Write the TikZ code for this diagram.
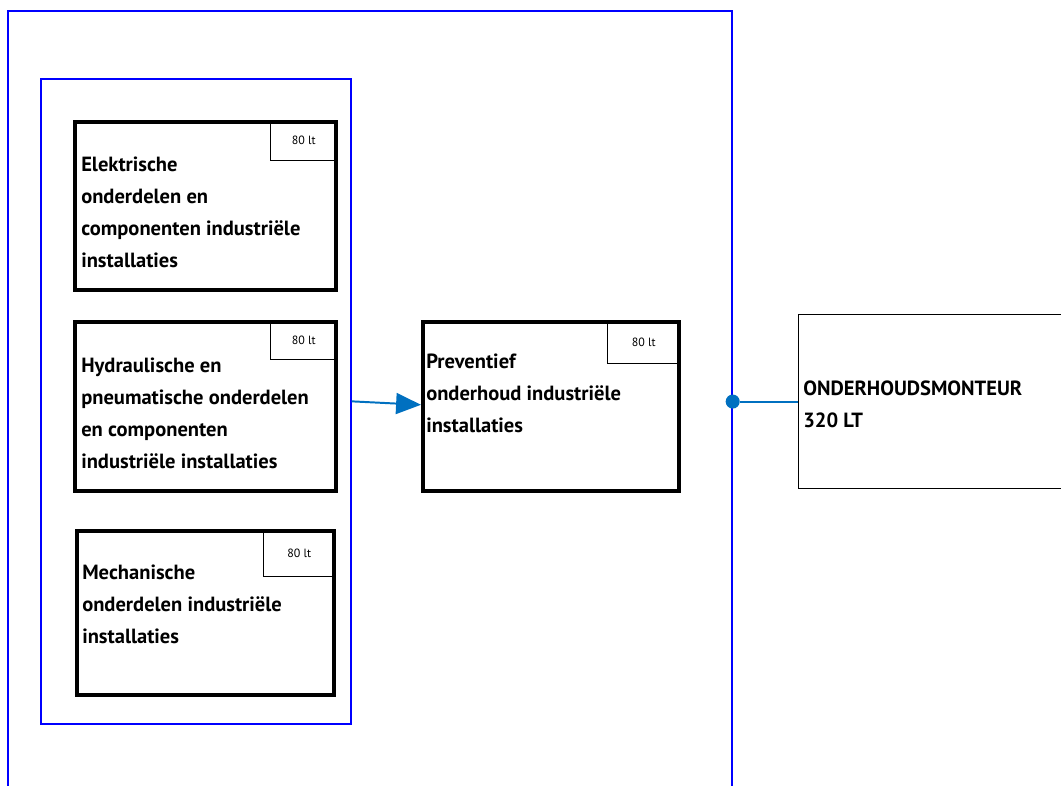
\documentclass[tikz,border=0pt]{standalone}
\usepackage{fontspec}
\setmainfont{PT Sans}
\usetikzlibrary{arrows.meta}
\definecolor{linkblue}{RGB}{0,112,192}

\begin{document}
\begin{tikzpicture}[x=0.025cm, y=-0.025cm,
    frame/.style = {draw=blue, line width=1.2pt, inner sep=0pt, anchor=north west},
    unit/.style = {draw=black, line width=2.8pt, inner sep=0pt, anchor=north west},
    tag/.style = {draw=black, line width=0.9pt, inner sep=0pt, anchor=north east, font=\fontsize{8.5}{10}\selectfont},
    txt/.style = {anchor=base west, inner sep=0pt, align=left, font=\bfseries\fontsize{14.6}{22.7}\selectfont},
    job/.style = {draw=black, line width=0.8pt, inner sep=0pt, anchor=north west},
    link/.style = {draw=linkblue, line width=1.4pt}]
                \useasboundingbox (0,0) rectangle (1061,785);
                % frames
                \node[frame, minimum width=724*0.025cm, minimum height=810*0.025cm] (outer) at (7,10) {};
                \node[frame, minimum width=310*0.025cm, minimum height=645*0.025cm] (inner) at (40,78) {};

                % units inside the inner frame (text placed by the baseline of its last line)
                \node[unit, minimum width=261*0.025cm, minimum height=168*0.025cm] (elek) at (73,120) {};
                \node[tag, minimum width=67*0.025cm, minimum height=40*0.025cm] (elek tag) at (elek.north east) {80 lt};
                \node[txt] (elek txt) at (81,267) {Elektrische\\onderdelen en\\componenten industriële\\installaties};

                \node[unit, minimum width=261*0.025cm, minimum height=169*0.025cm] (hydr) at (73,320) {};
                \node[tag, minimum width=67*0.025cm, minimum height=39*0.025cm] (hydr tag) at (hydr.north east) {80 lt};
                \node[txt] (hydr txt) at (81,468) {Hydraulische en\\pneumatische onderdelen\\en componenten\\industriële installaties};

                \node[unit, minimum width=257*0.025cm, minimum height=164*0.025cm] (mech) at (75,529) {};
                \node[tag, minimum width=72*0.025cm, minimum height=47*0.025cm] (mech tag) at (mech.north east) {80 lt};
                \node[txt] (mech txt) at (82,643) {Mechanische\\onderdelen industriële\\installaties};

                % preventief onderhoud
                \node[unit, minimum width=256*0.025cm, minimum height=169*0.025cm] (prev) at (421,320) {};
                \node[tag, minimum width=73*0.025cm, minimum height=43*0.025cm] (prev tag) at (prev.north east) {80 lt};
                \node[txt] (prev txt) at (426,432) {Preventief\\onderhoud industriële\\installaties};

                % beroep
                \node[job, minimum width=277*0.025cm, minimum height=174*0.025cm] (monteur) at (798,314) {};
                \node[txt] (monteur txt) at (803,427) {ONDERHOUDSMONTEUR\\320 LT};

                \draw[link, -{Triangle[length=17.7pt, width=14.9pt]}] (inner.east) -- ([yshift=1.2pt]prev.west);
                \node[circle, fill=linkblue, minimum size=10pt, inner sep=0pt] (joint) at (outer.east |- monteur.west) {};
                \draw[link] (joint) -- (monteur.west);
            \end{tikzpicture}
\end{document}
